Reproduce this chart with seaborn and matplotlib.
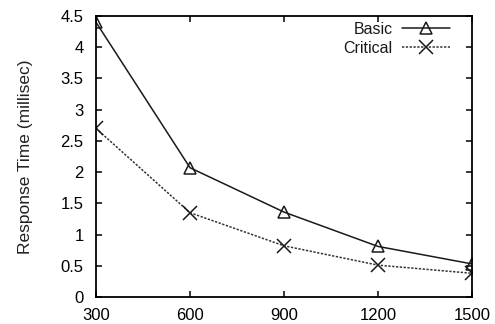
import matplotlib
matplotlib.use("Agg")
import matplotlib.pyplot as plt
import seaborn as sns
import pandas as pd

x_vals = [300, 600, 900, 1200, 1500]
basic = [4.40, 2.07, 1.36, 0.81, 0.53]
critical = [2.70, 1.35, 0.82, 0.51, 0.38]
y_ticks = [0, 0.5, 1, 1.5, 2, 2.5, 3, 3.5, 4, 4.5]
y_tick_labels = ["0", "0.5", "1", "1.5", "2", "2.5", "3", "3.5", "4", "4.5"]

sns.set_style("ticks")
plt.rcParams['font.family'] = ['Liberation Sans', 'DejaVu Sans']

df = pd.DataFrame({
    "x": x_vals * 2,
    "y": basic + critical,
    "series": ["Basic"] * len(x_vals) + ["Critical"] * len(x_vals),
})

W, H = 495, 324
x0, x1, y0, y1 = 96, 472, 16, 297
fig = plt.figure(figsize=(W / 100, H / 100), dpi=100)
ax = fig.add_axes([x0 / W, 1 - y1 / H, (x1 - x0) / W, (y1 - y0) / H])

sns.lineplot(data=df[df.series == "Basic"], x="x", y="y", ax=ax, color="#1a1a1a",
             lw=1.1, marker="^", markersize=9, markerfacecolor="none",
             markeredgecolor="#1a1a1a", markeredgewidth=1.1, label="Basic")
sns.lineplot(data=df[df.series == "Critical"], x="x", y="y", ax=ax, color="#333333",
             lw=1.1, linestyle=(0, (1.5, 1)), marker="x", markersize=10,
             markeredgecolor="#1a1a1a", markeredgewidth=1.1, label="Critical")

ax.set_xlim(300, 1500)
ax.set_ylim(0, 4.5)
ax.set_xticks(x_vals)
ax.set_xticklabels([str(v) for v in x_vals])
ax.set_yticks(y_ticks)
ax.set_yticklabels(y_tick_labels)
ax.tick_params(direction="in", top=True, right=True, length=4, width=1.1,
               labelsize=12, colors="black")
ax.tick_params(axis="y", pad=9)
ax.tick_params(axis="x", pad=8)
for s in ax.spines.values():
    s.set_visible(True)
    s.set_linewidth(1.3)
    s.set_color("black")
ax.set_xlabel("")
ax.set_ylabel("Response Time (millisec)", fontsize=12.5, color="#222222", labelpad=20)

leg = ax.legend(loc="upper right", frameon=False, markerfirst=False, fontsize=11.5,
                handlelength=3.0, borderpad=0, borderaxespad=0,
                bbox_to_anchor=((450 - x0) / (x1 - x0), (y1 - 22) / (y1 - y0)),
                labelspacing=0.22, handletextpad=0.6)
for t in leg.get_texts():
    t.set_color("#1a1a1a")

fig.savefig("out.png", dpi=100)
